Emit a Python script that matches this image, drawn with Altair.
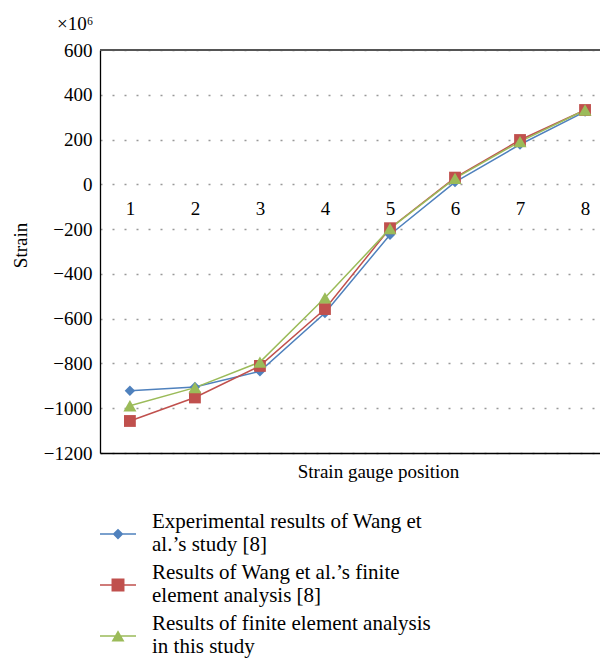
import altair as alt
import pandas as pd

positions = [1, 2, 3, 4, 5, 6, 7, 8]
series_names = [
    "Experimental results of Wang et|al.’s study [8]",
    "Results of Wang et al.’s finite|element analysis [8]",
    "Results of finite element analysis|in this study",
]
exp_wang = [-922, -905, -835, -575, -225, 10, 178, 325]
fea_wang = [-1057, -952, -811, -557, -196, 30, 198, 332]
fea_this = [-989, -908, -794, -507, -198, 27, 191, 332]
y_ticks = [600, 400, 200, 0, -200, -400, -600, -800, -1000, -1200]

colors = ["#4F81BD", "#C0504D", "#9BBB59"]
shapes = ["diamond", "square", "triangle-up"]
marker_sizes = [110, 170, 150]
legend_paths = [
    "M-1,0.62H1V0.71H-1Z M0,0.37L0.3,0.67L0,0.97L-0.3,0.67Z",
    "M-1,0.62H1V0.71H-1Z M-0.36,0.31H0.36V1.03H-0.36Z",
    "M-1,0.62H1V0.71H-1Z M0,0.35L0.36,0.97H-0.36Z",
]

rows = []
for name, vals in zip(series_names, [exp_wang, fea_wang, fea_this]):
    for p, v in zip(positions, vals):
        rows.append({"pos": p, "strain": v, "series": name})
df = pd.DataFrame(rows)

FONT = "Liberation Serif"
xscale = alt.Scale(domain=[0.54, 8.23], nice=False, zero=False)
yscale = alt.Scale(domain=[-1200, 600], nice=False, zero=False)
cscale = alt.Scale(domain=series_names, range=colors)

yaxis = alt.Axis(
    values=y_ticks, format="d", grid=True, gridDash=[2, 10], gridColor="#999999",
    gridWidth=1.5, domain=True, domainColor="black", domainWidth=1.3, ticks=False,
    labelFont=FONT, labelFontSize=19, labelPadding=8, labelColor="black",
    title="Strain", titleFont=FONT, titleFontSize=19, titleFontWeight="normal",
    titleColor="black", titleX=-70, titleY=195, titleAngle=270,
)
xaxis_main = alt.Axis(
    labels=False, ticks=False, grid=False, domainColor="black", domainWidth=1.3,
    title="Strain gauge position", titleFont=FONT, titleFontSize=19,
    titleFontWeight="normal", titleColor="black", titlePadding=9, titleX=278,
)
xaxis_labels = alt.Axis(
    orient="bottom", offset=-268.6, values=positions, format="d", domain=False,
    ticks=False, grid=False, labelFont=FONT, labelFontSize=19, labelColor="black",
    labelPadding=15, title=None,
)

base = alt.Chart(df)
lines = base.mark_line(strokeWidth=1.5).encode(
    x=alt.X("pos:Q", scale=xscale, axis=xaxis_main),
    y=alt.Y("strain:Q", scale=yscale, axis=yaxis),
    color=alt.Color("series:N", scale=cscale, legend=None),
)
points = base.mark_point(filled=True, opacity=1).encode(
    x=alt.X("pos:Q", scale=xscale, axis=xaxis_main),
    y=alt.Y("strain:Q", scale=yscale, axis=yaxis),
    color=alt.Color("series:N", scale=cscale, legend=None),
    shape=alt.Shape("series:N", scale=alt.Scale(domain=series_names, range=shapes), legend=None),
    size=alt.Size("series:N", scale=alt.Scale(domain=series_names, range=marker_sizes), legend=None),
)
top_rule = base.mark_rule(color="#555555", strokeWidth=2).encode(y=alt.datum(600, scale=yscale))
inner = alt.layer(lines, points, top_rule)

labels_layer = base.mark_point(opacity=0).encode(
    x=alt.X("pos:Q", scale=xscale, axis=xaxis_labels),
    y=alt.Y("strain:Q", scale=yscale, axis=yaxis),
)

leg = alt.Legend(
    orient="none", legendX=0, legendY=454, title=None, symbolSize=1296,
    labelFont=FONT, labelFontSize=21, labelColor="black", labelLimit=600,
    labelOffset=16, rowPadding=0, padding=0, symbolStrokeWidth=0, symbolOpacity=1,
    labelExpr="split(datum.label, '|')",
)
legend_layer = base.mark_point(filled=True, opacity=1, size=1296).encode(
    shape=alt.Shape("series:N", scale=alt.Scale(domain=series_names, range=legend_paths), legend=leg),
    color=alt.Color("series:N", scale=alt.Scale(domain=series_names, range=colors), legend=leg),
).transform_filter("false")

chart = alt.layer(inner, labels_layer, legend_layer).resolve_scale(
    x="independent", color="independent", shape="independent"
).properties(
    width=500, height=403,
    autosize=alt.AutoSizeParams(type="none"),
    padding={"left": 92, "top": 42, "right": 0, "bottom": 207},
    title=alt.TitleParams(
        text="×10⁶", anchor="start", frame="group", dx=-43, offset=7,
        font=FONT, fontSize=19, fontWeight="normal", color="black",
    ),
).configure_view(stroke=None).configure(font=FONT)

chart.save("out.html", embed_options={"renderer": "svg", "actions": False})
